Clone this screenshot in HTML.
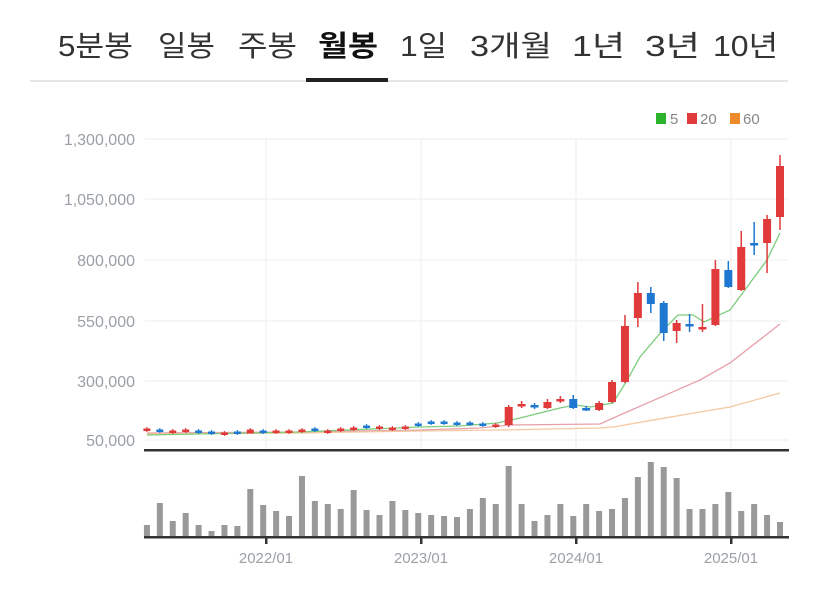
<!DOCTYPE html>
<html><head><meta charset="utf-8"><style>
body{margin:0;background:#fff;width:835px;height:592px;overflow:hidden}
svg{display:block}
</style></head><body>
<svg id="s" width="835" height="592" xmlns="http://www.w3.org/2000/svg" font-family="Liberation Sans, Noto Sans CJK KR, sans-serif">
<g font-size="29" fill="#333" font-family="Liberation Sans, Noto Sans CJK KR, sans-serif" lengthAdjust="spacingAndGlyphs">
<text x="58" y="56" textLength="75" lengthAdjust="spacingAndGlyphs">5분봉</text>
<text x="158" y="56" textLength="57" lengthAdjust="spacingAndGlyphs">일봉</text>
<text x="238" y="56" textLength="59" lengthAdjust="spacingAndGlyphs">주봉</text>
<text x="318" y="56" font-weight="bold" fill="#111" textLength="60" lengthAdjust="spacingAndGlyphs">월봉</text>
<text x="400" y="56" textLength="47" lengthAdjust="spacingAndGlyphs">1일</text>
<text x="470" y="56" textLength="82" lengthAdjust="spacingAndGlyphs">3개월</text>
<text x="572" y="56" textLength="53" lengthAdjust="spacingAndGlyphs">1년</text>
<text x="645" y="56" textLength="55" lengthAdjust="spacingAndGlyphs">3년</text>
<text x="713" y="56" textLength="65" lengthAdjust="spacingAndGlyphs">10년</text>
</g>
<rect x="30" y="80" width="758" height="2" fill="#e6e6e6"/>
<rect x="306" y="78" width="82" height="4" fill="#222"/>
<g font-size="15" fill="#888">
<rect x="656" y="113" width="10" height="11" fill="#2cb52c"/><text x="670" y="124">5</text>
<rect x="687" y="113" width="10" height="11" fill="#e03a3a"/><text x="700" y="124">20</text>
<rect x="730" y="113" width="10" height="11" fill="#ee8a2a"/><text x="743" y="124">60</text>
</g>
<g id="grid" stroke="#ececec" stroke-width="1"></g>
<g id="ylab" font-size="16" fill="#9aa0a6" text-anchor="end"></g>
<g id="ma" fill="none" stroke-width="1.3"></g>
<g id="cd"></g>
<rect x="144" y="449" width="645" height="2.5" fill="#333"/>
<g id="vol" fill="#999"></g>
<rect x="144" y="536" width="645" height="2.5" fill="#333"/>
<g id="xl" font-size="15" fill="#9aa0a6" text-anchor="middle"></g>
</svg>
<script>
const N='http://www.w3.org/2000/svg';
function el(p,t,a,txt){const e=document.createElementNS(N,t);for(const k in a)e.setAttribute(k,a[k]);if(txt)e.textContent=txt;document.getElementById(p).appendChild(e);}
const gy=[139,199,260,321,381,440],gl=['1,300,000','1,050,000','800,000','550,000','300,000','50,000'];
gy.forEach((y,i)=>{el('grid','line',{x1:145,x2:788,y1:y,y2:y});el('ylab','text',{x:135,y:y+6},gl[i]);});
const vx=[266,421,576,731],vl=['2022/01','2023/01','2024/01','2025/01'];
vx.forEach((x,i)=>{el('grid','line',{x1:x,x2:x,y1:139,y2:449});el('xl','rect',{x:x-1,y:536,width:2.5,height:8,fill:'#333'});el('xl','text',{x:x,y:563},vl[i]);});
const X=i=>780-(49-i)*12.92;
const vt=[525,503,521,513,525,531,525,526,489,505,511,516,476,501,504,509,490,510,515,501,510,513,515,516,517,509,498,504,466,504,521,515,504,516,504,511,509,498,477,462,467,478,509,509,504,492,511,504,515,522];
for(let i=0;i<50;i++)el('vol','rect',{x:X(i)-3,y:vt[i],width:6,height:536-vt[i]});
const R='#e03a3a',B='#1e78d2';
const ey=[430,431,432,431,432,433,434,433,431,432,432,432,431,430,432,430,429,427,428,429,428,425,423,423,424,424,425,426];
const ec='RBRRBBRBRBRRRBRRRBRRRBBBBBBR';
for(let i=0;i<28;i++){const c=ec[i]=='R'?R:B;const x=X(i);el('cd','line',{x1:x,x2:x,y1:ey[i]-3,y2:ey[i]+2,stroke:c,'stroke-width':1.2});el('cd','rect',{x:x-3.5,y:ey[i]-1.5,width:7,height:i==8?4:2.5,fill:c});}
const L=[[407,425,405,427,R],[404,406,401,408,R],[405,407,403,409,B],[402,408,399,409,R],[399,401,396,403,R],[399,408,395,409,B],[408,410,406,411,B],[403,410,401,411,R],[382,402,380,403,R],[326,382,315,383,R],[293,318,282,327,R],[293,304,287,313,B],[303,333,301,341,B],[323,331,320,343,R],[324,326,314,332,B],[327,329,304,332,R],[269,325,260,326,R],[270,287,261,288,B],[247,290,231,291,R],[243,245,222,255,B],[219,243,215,273,R],[166,217,155,230,R]];
L.forEach((d,k)=>{const i=28+k,x=X(i);el('cd','line',{x1:x,x2:x,y1:d[2],y2:d[3],stroke:d[4],'stroke-width':1.5});el('cd','rect',{x:x-4,y:d[0],width:8,height:Math.max(2.5,d[1]-d[0]),fill:d[4]});});
function pl(pts,c){el('ma','polyline',{points:pts.map(p=>p.join(',')).join(' '),stroke:c});}
pl([[147,433],[300,432],[420,430],[480,428],[510,425],[600,424],[620,415],[700,380],[730,363],[780,324]],'#e6a0aa');
pl([[147,434],[300,433],[420,431],[500,430],[600,428],[613,427],[700,412],[730,407],[780,393]],'#f3c9a0');
pl([[147,435],[300,432],[420,427],[460,426],[497,423],[520,418],[560,408],[575,405],[590,407],[613,403],[626,382],[640,357],[663,330],[678,315],[693,315],[704,322],[730,310],[747,287],[767,260],[780,233]],'#7ccd7c');
</script>
</body></html>
